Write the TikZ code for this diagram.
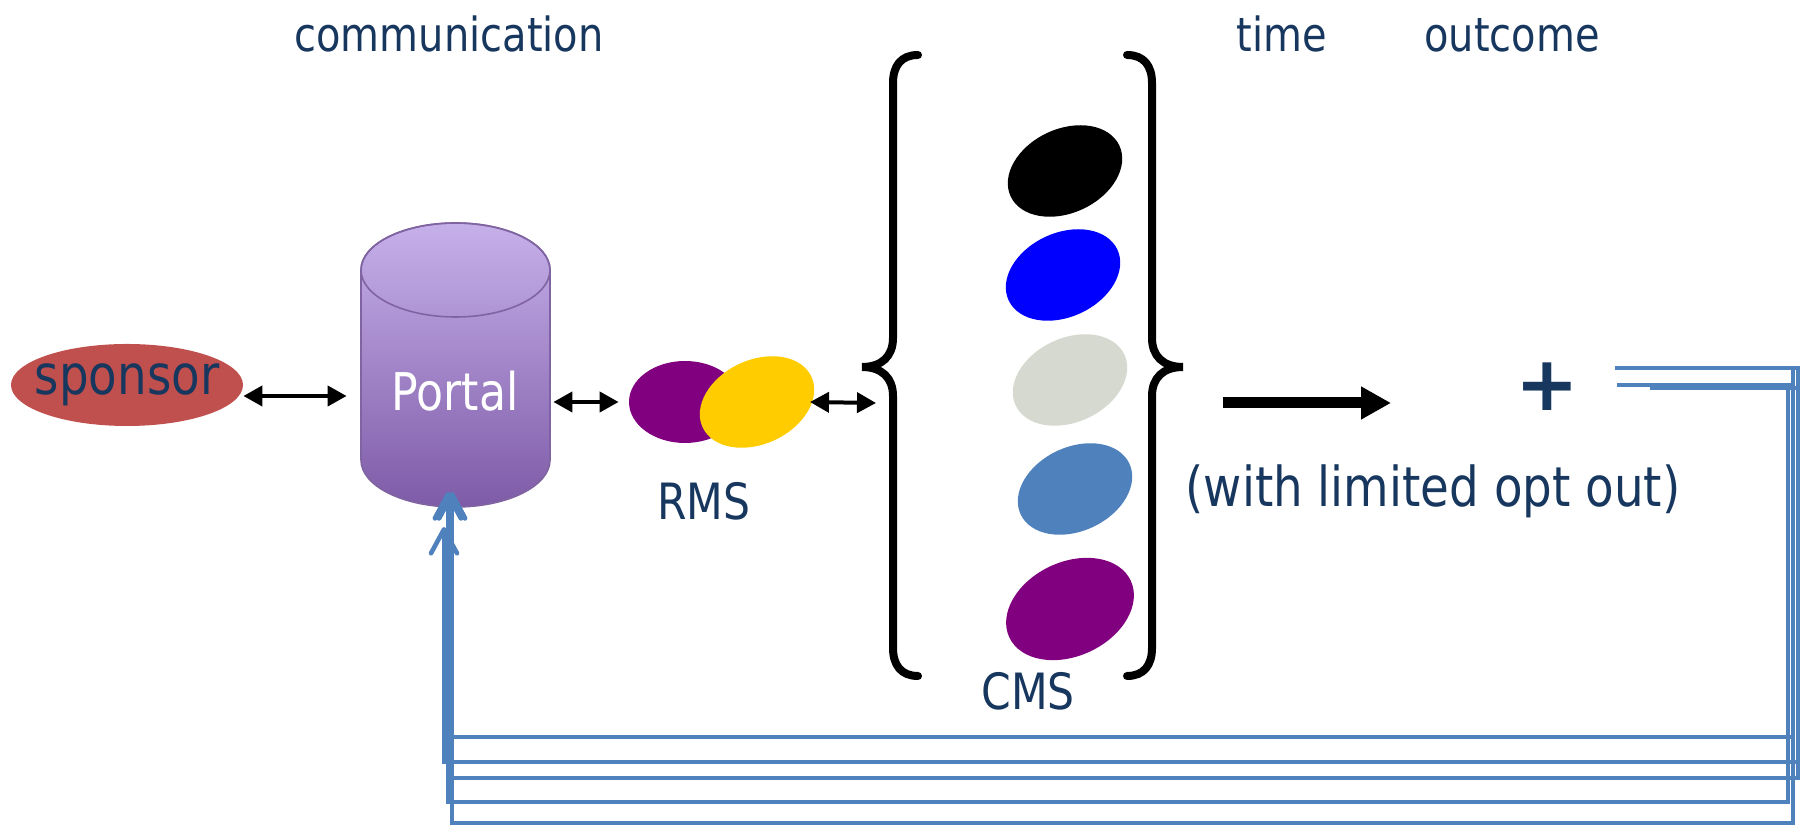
\documentclass[tikz,border=0pt]{standalone}
\usepackage{fontspec}
\setmainfont{DejaVu Sans}[FakeStretch=0.85]
\newfontfamily\plainsans{DejaVu Sans}
\usetikzlibrary{arrows.meta,shapes.geometric}

\tikzset{
  txt/.style={text=navy, inner sep=0pt, anchor=base},
  head/.style={txt, font=\fontsize{23.5pt}{27pt}\selectfont},
  big/.style={txt, font=\fontsize{27.5pt}{32pt}\selectfont},
  blob/.style={ellipse, inner sep=0pt, minimum width=60pt, minimum height=42pt, rotate=25},
  dbl/.style={line width=2pt, {Triangle[length=9.5pt,width=10pt]}-{Triangle[length=9.5pt,width=10pt]}},
  curly/.style={line width=4pt, line cap=round},
  fb/.style={draw=fbblue, line width=2.3pt, -{Straight Barb[round,length=12pt,width=13pt]}},
}

\begin{document}
\begin{tikzpicture}[x=0.5pt,y=0.5pt]
  \definecolor{navy}{HTML}{17375E}
  \definecolor{sponsorred}{HTML}{C0504D}
  \definecolor{portaltop}{HTML}{C6B0EA}
  \definecolor{portalbot}{HTML}{7E5BA7}
  \definecolor{portaledge}{HTML}{8064A2}
  \definecolor{rmspurple}{HTML}{800080}
  \definecolor{rmsyellow}{HTML}{FFCC00}
  \definecolor{cmsblue}{HTML}{0000FF}
  \definecolor{cmsgray}{HTML}{D6D9CF}
  \definecolor{cmssteel}{HTML}{4F81BD}
  \definecolor{fbblue}{HTML}{4F81BD}

  \useasboundingbox (0,0) rectangle (1802,828);

  % headings
  \node[head] (comm) at (449,776) {communication};
  \node[head] (time) at (1282,776) {time};
  \node[head] (outc) at (1512,776) {outcome};

  \node[ellipse, fill=sponsorred, minimum width=116pt, minimum height=41pt, inner sep=0pt,
        label={[text=navy, font=\fontsize{27.5pt}{32pt}\selectfont]center:sponsor}] (sponsor) at (127,443) {};

  % portal cylinder
  \shade[top color=portaltop, bottom color=portalbot, draw=portaledge, line width=0.8pt]
    (361,558) -- (361,368) arc[start angle=180, end angle=360, x radius=94.5, y radius=47]
    -- (550,558) arc[start angle=0, end angle=180, x radius=94.5, y radius=47] -- cycle;
  \draw[portaledge, line width=0.8pt] (455.5,558) ellipse[x radius=94.5, y radius=47];
  \node[minimum width=94.5pt, minimum height=142pt, inner sep=0pt] (portal) at (455.5,463) {};
  \node[txt, text=white, font=\fontsize{26pt}{30pt}\selectfont] (portallbl) at (455,417) {Portal};

  % RMS
  \node[ellipse, fill=rmspurple, minimum width=56pt, minimum height=41pt, inner sep=0pt] (rmsa) at (685,426) {};
  \node[blob, fill=rmsyellow] (rmsb) at (757,426) {};
  \node[txt, font=\fontsize{25pt}{29pt}\selectfont] (rms) at (704,308) {RMS};

  \coordinate (lbrace) at (876,425);
  \draw[dbl] ([yshift=-5.5pt]sponsor.east) -- ([yshift=-5.5pt,xshift=-7pt]sponsor.east -| portal.west);
  \draw[dbl, shorten <=1.5pt, shorten >=5pt] (portal.east |- rmsa.west) -- (rmsa.west);
  \draw[dbl] ([xshift=26.5pt]rmsb.center) -- (lbrace);

  % braces
  \draw[curly] (918,773) .. controls (901,773) and (893,762) .. (893,745) -- (893,490)
    .. controls (893,472) and (882,461) .. (862,461) .. controls (882,461) and (893,450) .. (893,432)
    -- (893,180) .. controls (893,163) and (901,152) .. (918,152);
  \draw[curly] (1127,773) .. controls (1144,773) and (1152,762) .. (1152,745) -- (1152,490)
    .. controls (1152,472) and (1163,461) .. (1183,461) .. controls (1163,461) and (1152,450) .. (1152,432)
    -- (1152,180) .. controls (1152,163) and (1144,152) .. (1127,152);

  % CMS
  \foreach \x/\y/\c [count=\i] in {1065/657/black, 1063/553/cmsblue, 1070/448/cmsgray, 1075/339/cmssteel}
    \node[blob, fill=\c] (cms\i) at (\x,\y) {};
  \node[blob, fill=rmspurple, minimum width=67pt, minimum height=47pt] (cms5) at (1070,219) {};
  \node[txt, font=\fontsize{25pt}{29pt}\selectfont] (cms) at (1028,118) {CMS};

  % time and outcome
  \coordinate (tfrom) at (1223,425);
  \coordinate (tto) at (1391,425);
  \draw[line width=5.5pt, -{Triangle[length=15pt,width=15.5pt]}] (tfrom) -- (tto);
  \node[text=navy, inner sep=0pt, font=\plainsans\fontsize{38pt}{38pt}\selectfont\bfseries] (plus) at (1547,441) {+};
  \node[big] (optout) at (1433,321) {(with limited opt out)};

  % feedback to the portal
  \coordinate (fbA) at (1615,460);
  \coordinate (fbB) at (1617,443);
  \coordinate (fbC) at (1650,440);
  \coordinate (pin) at (448,336);
  \foreach \s/\r/\b/\l/\e in {fbA/1798/50/2/0, fbA/1793/91/0/0, fbB/1788/26/0/0, fbB/1793/5/2/0, fbC/1798/66/-2/-17.5}
    \draw[fb] (\s) -| (\r,\b) -| ([xshift=\l pt, yshift=\e pt]pin);
\end{tikzpicture}
\end{document}
